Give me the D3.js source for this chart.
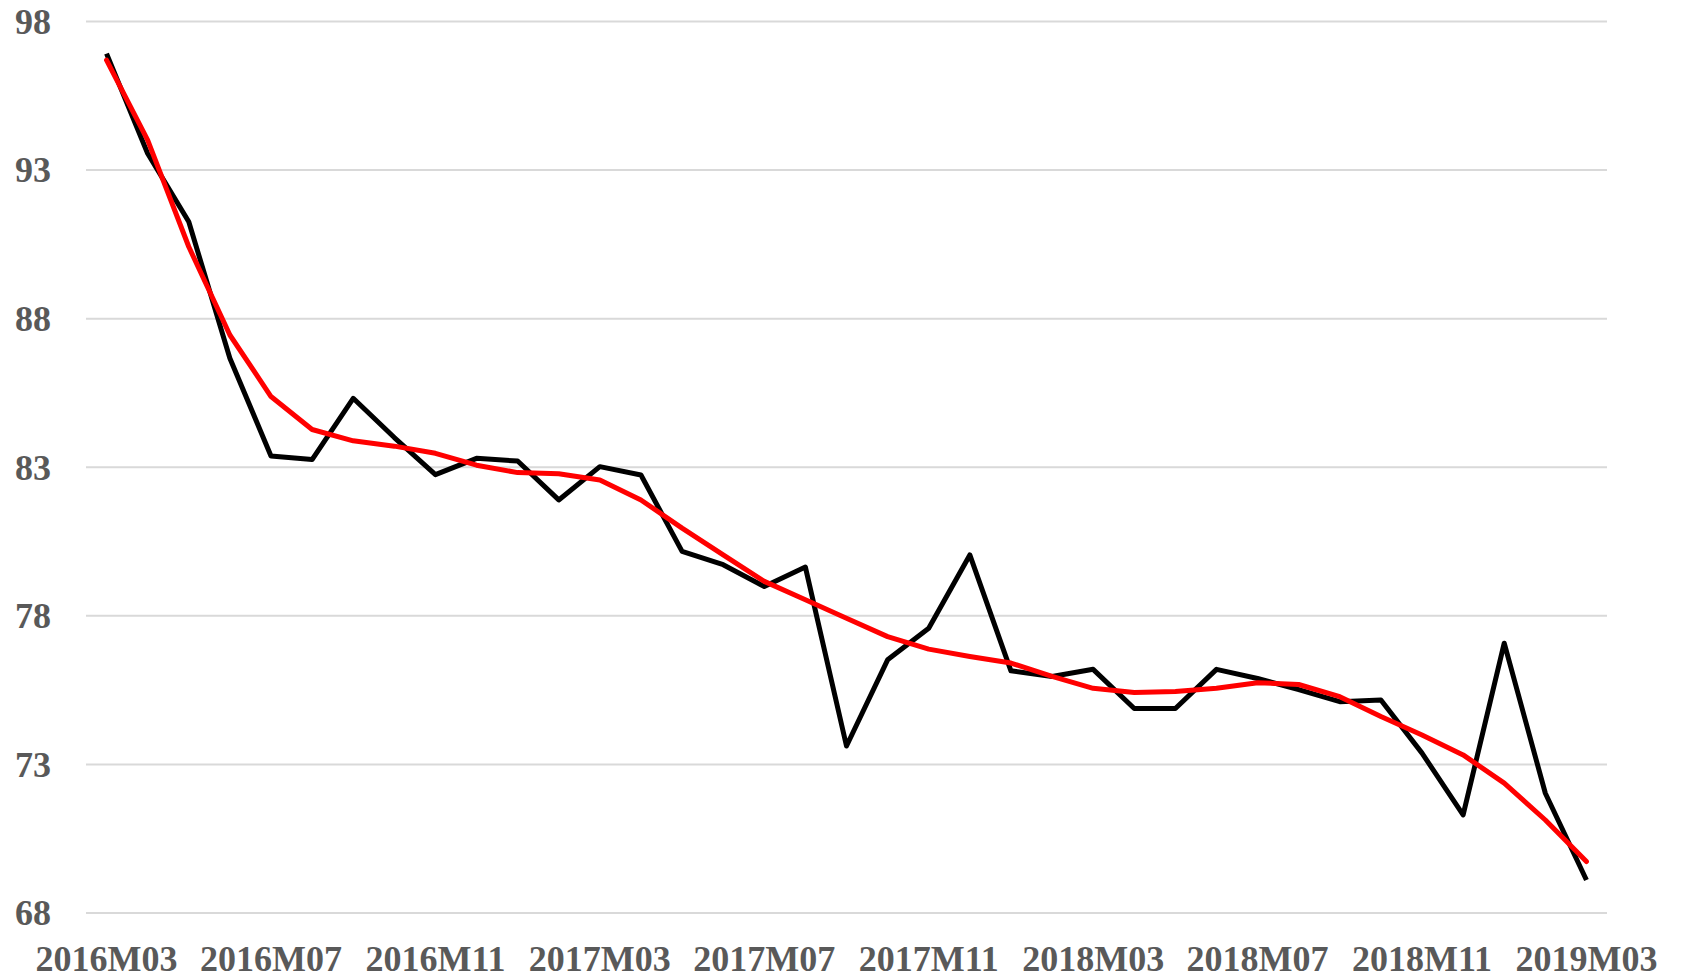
<!DOCTYPE html>
<html>
<head>
<meta charset="utf-8">
<script src="https://cdn.jsdelivr.net/npm/d3@7"></script>
<style>
  body { margin: 0; background: #fff; }
  svg text { font-family: "Liberation Serif", "Times New Roman", serif; font-weight: bold; fill: #595959; }
</style>
</head>
<body>
<script>

var months = [
  "2016M03","2016M04","2016M05","2016M06","2016M07","2016M08","2016M09","2016M10","2016M11","2016M12",
  "2017M01","2017M02","2017M03","2017M04","2017M05","2017M06","2017M07","2017M08","2017M09","2017M10",
  "2017M11","2017M12","2018M01","2018M02","2018M03","2018M04","2018M05","2018M06","2018M07","2018M08",
  "2018M09","2018M10","2018M11","2018M12","2019M01","2019M02","2019M03"
];

// black series (actual)
var actual = [
  96.92, 93.56, 91.26, 86.67, 83.38, 83.26, 85.32, 84.00, 82.75, 83.30,
  83.21, 81.90, 83.02, 82.74, 80.17, 79.72, 78.99, 79.64, 73.62, 76.52,
  77.58, 80.05, 76.15, 75.96, 76.20, 74.88, 74.88, 76.20, 75.89, 75.52,
  75.11, 75.17, 73.38, 71.30, 77.08, 72.03, 69.11
];

// red series (trend)
var trend = [
  96.70, 94.01, 90.42, 87.45, 85.38, 84.27, 83.89, 83.71, 83.47, 83.07,
  82.82, 82.78, 82.57, 81.90, 80.95, 80.05, 79.16, 78.54, 77.92, 77.30,
  76.88, 76.63, 76.41, 75.96, 75.56, 75.42, 75.45, 75.56, 75.75, 75.69,
  75.28, 74.61, 73.99, 73.32, 72.37, 71.13, 69.73
];

var yTicks = [68, 73, 78, 83, 88, 93, 98];

var width = 1683;
var height = 978;
var plotLeft = 86, plotRight = 1607, plotTop = 21.5, plotBottom = 913;

var svg = d3.select("body").append("svg")
      .attr("width", width)
      .attr("height", height);

var x = d3.scaleBand().domain(months).range([plotLeft, plotRight]);
var y = d3.scaleLinear().domain([68, 98]).range([plotBottom, plotTop]);

var px = function(d, i){ return x(months[i]) + x.bandwidth() / 2; };

// gridlines
svg.append("g")
  .selectAll("line").data(yTicks)
  .enter().append("line")
  .attr("x1", plotLeft).attr("x2", plotRight)
  .attr("y1", function(d){ return y(d); })
  .attr("y2", function(d){ return y(d); })
  .attr("stroke", "#d9d9d9")
  .attr("stroke-width", 2);

// y axis labels
var yAxis = d3.axisLeft(y).tickValues(yTicks).tickSize(0).tickPadding(0);
var gy = svg.append("g").attr("transform", "translate(51,0)").call(yAxis);
gy.select(".domain").remove();
gy.selectAll("text").style("font-size", "36px").attr("fill", "#595959").attr("dy", "0.33em");

// x axis labels
var xAxis = d3.axisBottom(x)
  .tickValues(months.filter(function(d, i){ return i % 4 === 0; }))
  .tickSize(0).tickPadding(0);
var gx = svg.append("g").attr("transform", "translate(0,945)").call(xAxis);
gx.select(".domain").remove();
gx.selectAll("text").style("font-size", "36px").attr("fill", "#595959").attr("dy", "0.72em");

var line = d3.line()
  .x(px)
  .y(function(d){ return y(d); });

svg.append("path").datum(actual)
  .attr("d", line)
  .attr("fill", "none")
  .attr("stroke", "#000")
  .attr("stroke-width", 5)
  .attr("stroke-linejoin", "round");

svg.append("path").datum(trend)
  .attr("d", line)
  .attr("fill", "none")
  .attr("stroke", "#ff0000")
  .attr("stroke-width", 5)
  .attr("stroke-linejoin", "round")
  .attr("stroke-linecap", "round");

</script>
</body>
</html>
